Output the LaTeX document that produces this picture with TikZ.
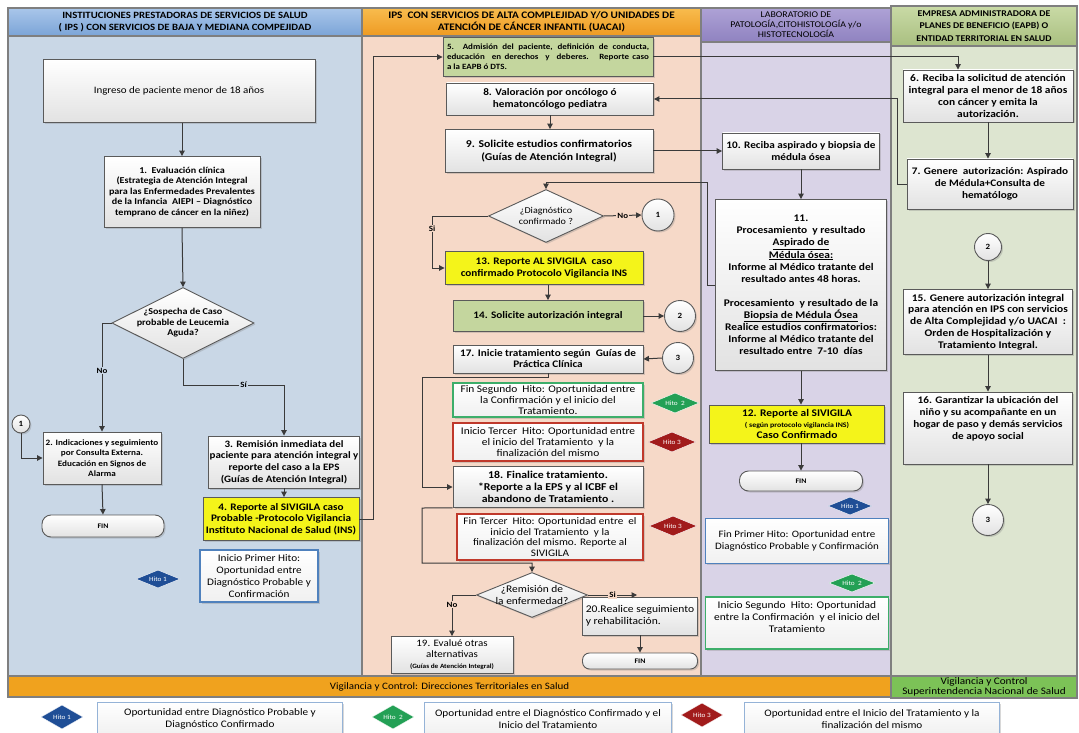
\documentclass[tikz,border=0pt]{standalone}
\usepackage{fontspec}
\setmainfont{Carlito}[FakeStretch=1.12]
\usetikzlibrary{shapes.geometric,arrows.meta,shadows}
\definecolor{laneA}{HTML}{C9D7E6}
\definecolor{laneB}{HTML}{F6D9C8}
\definecolor{laneC}{HTML}{D9D3E7}
\definecolor{laneD}{HTML}{DDE5D0}
\definecolor{hdrAtop}{HTML}{A9C6EA}
\definecolor{hdrAbot}{HTML}{7BA4D7}
\definecolor{hdrBtop}{HTML}{F8BC4E}
\definecolor{hdrBbot}{HTML}{EE9A22}
\definecolor{hdrCtop}{HTML}{AEA2D6}
\definecolor{hdrCbot}{HTML}{8F82C0}
\definecolor{hdrDtop}{HTML}{C9DAA6}
\definecolor{hdrDbot}{HTML}{A9BF80}
\definecolor{lanegray}{HTML}{7F7F7F}
\definecolor{bordergray}{HTML}{5A5A5A}
\definecolor{linegray}{HTML}{3A3A3A}
\definecolor{boxbot}{HTML}{E2E2E2}
\definecolor{boxlight}{HTML}{F0F0F0}
\definecolor{yelbox}{HTML}{F4F41A}
\definecolor{grnbox}{HTML}{C4D69E}
\definecolor{hitoblue}{HTML}{1F4E96}
\definecolor{hitogreen}{HTML}{23A055}
\definecolor{hitored}{HTML}{A11B1B}
\definecolor{hbblue}{HTML}{4F81BD}
\definecolor{hbgreen}{HTML}{3DAE6A}
\definecolor{hbred}{HTML}{C0392B}
\definecolor{bandor}{HTML}{F0A21E}
\definecolor{bandgr}{HTML}{7CC257}
\tikzset{
  shad/.style={drop shadow={opacity=0.3,shadow xshift=1.5pt,shadow yshift=-1.5pt}},
  pbox/.style={draw=bordergray, line width=0.9pt, top color=white, bottom color=boxbot, align=center, inner sep=1pt, text=black, font=\bfseries\fontsize{10}{12}\selectfont, shad},
  ybox/.style={pbox, top color=yelbox, bottom color=yelbox},
  gbox/.style={pbox, top color=grnbox, bottom color=grnbox},
  hbox/.style={pbox, draw=#1, line width=1.1pt, top color=white, bottom color=boxlight, font=\fontsize{10}{12}\selectfont},
  dec/.style={diamond, draw=bordergray, line width=0.9pt, top color=white, bottom color=boxbot, align=center, inner sep=0pt, aspect=2, font=\bfseries\fontsize{9}{10.5}\selectfont, shad},
  hito/.style={diamond, aspect=3, fill=#1, draw=white, line width=0.4pt, inner sep=0pt, minimum width=44pt, minimum height=18pt, text=white, font=\fontsize{6.5}{7}\selectfont},
  conn/.style={circle, draw=bordergray, line width=0.9pt, top color=white, bottom color=boxbot, inner sep=0pt, minimum size=#1, font=\bfseries\fontsize{8}{9}\selectfont, shad},
  pill/.style={pbox, rounded corners=9pt, font=\bfseries\fontsize{7}{8}\selectfont},
  arr/.style={draw=linegray, line width=1pt, -{Triangle[length=5.5pt,width=5.5pt]}},
  lbl/.style={fill=#1, inner sep=1pt, text=black, font=\bfseries\fontsize{8}{9}\selectfont},
  lane/.style={draw=lanegray, line width=1.6pt, fill=#1},
  hdr/.style={draw=lanegray, line width=1.2pt, align=center, inner sep=0pt, text=black},
  lgbox/.style={draw=hbblue!60, line width=0.8pt, top color=white, bottom color=boxlight, align=center, inner sep=1pt, font=\fontsize{10}{12}\selectfont, shad}
}
\begin{document}
\begin{tikzpicture}[x=1pt,y=-1pt]
\useasboundingbox (0,0) rectangle (1079,733);
\fill[white] (0,0) rectangle (1079,733);
% lanes
\draw[lane=laneA] (8,36) rectangle (362,676);
\draw[lane=laneB] (362,36) rectangle (701,676);
\draw[lane=laneC] (701,42) rectangle (891,676);
\draw[lane=laneD] (891,46) rectangle (1077,676);
\node[hdr, top color=hdrAtop, bottom color=hdrAbot, minimum width=354pt, minimum height=28pt, font=\bfseries\fontsize{9.6}{12}\selectfont] (hA) at (185,22) {INSTITUCIONES PRESTADORAS DE SERVICIOS DE SALUD\\( IPS ) CON SERVICIOS DE BAJA Y MEDIANA COMPEJIDAD};
\node[hdr, top color=hdrBtop, bottom color=hdrBbot, minimum width=339pt, minimum height=28pt, font=\bfseries\fontsize{10}{12}\selectfont] (hB) at (531.5,22) {IPS\ \ CON SERVICIOS DE ALTA COMPLEJIDAD Y/O UNIDADES DE\\ATENCIÓN DE CÁNCER INFANTIL (UACAI)};
\node[hdr, top color=hdrCtop, bottom color=hdrCbot, minimum width=190pt, minimum height=34pt, font=\fontsize{8.8}{10}\selectfont] (hC) at (796,25) {LABORATORIO DE\\PATOLOGÍA,CITOHISTOLOGÍA y/o\\HISTOTECNOLOGÍA};
\node[hdr, top color=hdrDtop, bottom color=hdrDbot, minimum width=186pt, minimum height=40pt, font=\bfseries\fontsize{8.8}{12.5}\selectfont] (hD) at (984,26) {EMPRESA ADMINISTRADORA DE\\PLANES DE BENEFICIO (EAPB) O\\ENTIDAD TERRITORIAL EN SALUD};
% bottom bands
\node[hdr, fill=bandor, minimum width=883pt, minimum height=21pt, font=\fontsize{9.8}{10}\selectfont] (vigA) at (449.5,686.5) {Vigilancia y Control: Direcciones Territoriales en Salud};
\node[hdr, fill=bandgr, minimum width=186pt, minimum height=22pt, font=\fontsize{10}{10.5}\selectfont] (vigB) at (984,687) {Vigilancia y Control\\Superintendencia Nacional de Salud};

% ---- lane 1
\node[pbox, minimum width=272pt, minimum height=63pt, font=\fontsize{9.8}{12}\selectfont] (ingreso) at (179,91) {Ingreso de paciente menor de 18 años};
\node[pbox, minimum width=156pt, minimum height=71pt, font=\bfseries\fontsize{9}{10.5}\selectfont] (b1) at (182,192) {1.\ \ Evaluación clínica\\(Estrategia de Atención Integral\\para las Enfermedades Prevalentes\\de la Infancia\ \ AIEPI – Diagnóstico\\temprano de cáncer en la niñez)};
\node[dec, inner sep=-6pt, minimum width=142pt, minimum height=71pt] (d1) at (183,323) {¿Sospecha de Caso\\probable de Leucemia\\Aguda?};
\node[pbox, minimum width=118pt, minimum height=52pt, font=\bfseries\fontsize{8.2}{10.5}\selectfont] (b2) at (102,458) {2. Indicaciones y seguimiento\\por Consulta Externa.\\Educación en Signos de\\Alarma};
\node[pill, minimum width=122pt, minimum height=22pt] (fin1) at (103,526) {FIN};
\node[conn=18pt] (c1a) at (21,424) {1};
\node[pbox, minimum width=150pt, minimum height=52pt, font=\bfseries\fontsize{9.8}{11.6}\selectfont] (b3) at (284,462) {3. Remisión inmediata del\\paciente para atención integral y\\reporte del caso a la EPS\\(Guías de Atención Integral)};
\node[ybox, minimum width=156pt, minimum height=43pt, font=\bfseries\fontsize{10}{11.5}\selectfont] (b4) at (281,519) {4. Reporte al SIVIGILA caso\\Probable -Protocolo Vigilancia\\Instituto Nacional de Salud (INS)};
\node[hbox=hbblue, minimum width=118pt, minimum height=52pt] (hb1) at (259,576) {Inicio Primer Hito:\\Oportunidad entre\\Diagnóstico Probable y\\Confirmación};
\node[hito=hitoblue] (hitoA) at (158,579) {Hito 1};

% ---- lane 2
\node[gbox, minimum width=210pt, minimum height=39pt, align=left, font=\bfseries\fontsize{8}{10}\selectfont] (b5) at (548,57) {\makebox[202pt][s]{5.\ \ Admisión del paciente, definición de conducta,}\\\makebox[202pt][s]{educación\ \ en derechos\ \ y\ \ deberes.\ \ \ Reporte caso}\\a la EAPB ó DTS.};
\node[pbox, minimum width=207pt, minimum height=32pt] (b8) at (550,99) {8. Valoración por oncólogo ó\\hematoncólogo pediatra};
\node[pbox, minimum width=208pt, minimum height=43pt, font=\bfseries\fontsize{10.5}{12.5}\selectfont] (b9) at (549,151) {9. Solicite estudios confirmatorios\\(Guías de Atención Integral)};
\node[dec, minimum width=115pt, minimum height=53pt, inner sep=-2pt, font=\fontsize{9}{10.5}\selectfont] (d2) at (546,216) {¿Diagnóstico\\confirmado ?};
\node[conn=32pt] (c1b) at (658,215) {1};
\node[ybox, minimum width=198pt, minimum height=33pt, font=\bfseries\fontsize{10}{11.5}\selectfont] (b13) at (544,268) {13. Reporte AL SIVIGILA\ \ caso\\confirmado Protocolo Vigilancia INS};
\node[gbox, minimum width=190pt, minimum height=31pt] (b14) at (548,316) {14. Solicite autorización integral};
\node[conn=31pt] (c2a) at (680,316) {2};
\node[pbox, minimum width=190pt, minimum height=28pt, font=\bfseries\fontsize{10}{11}\selectfont] (b17) at (548,359) {17. Inicie tratamiento según\ \ Guías de\\Práctica Clínica};
\node[conn=31pt] (c3a) at (678,358) {3};
\node[hbox=hbgreen, minimum width=190pt, minimum height=34pt, font=\fontsize{10.2}{10.8}\selectfont] (hb2) at (548,400) {Fin Segundo\ \ Hito: Oportunidad entre\\la Confirmación y el inicio del\\Tratamiento.};
\node[hito=hitogreen, minimum width=48pt, minimum height=20pt] (hitoB) at (675,403) {Hito\ \ 2};
\node[hbox=hbred, minimum width=190pt, minimum height=38pt, font=\fontsize{10.2}{11.2}\selectfont] (hb3) at (548,442) {Inicio Tercer\ \ Hito: Oportunidad entre\\el inicio del Tratamiento\ \ y la\\finalización del mismo};
\node[hito=hitored, minimum width=48pt, minimum height=20pt] (hitoC) at (672,442) {Hito 3};
\node[pbox, minimum width=190pt, minimum height=41pt, font=\bfseries\fontsize{10.5}{11.8}\selectfont] (b18) at (548,487) {18. Finalice tratamiento.\\*Reporte a la EPS y al ICBF el\\abandono de Tratamiento .};
\node[hbox=hbred, minimum width=186pt, minimum height=46pt, font=\fontsize{10}{10.8}\selectfont] (hb4) at (550,537) {Fin Tercer\ \ Hito: Oportunidad entre\ \ el\\inicio del Tratamiento\ \ y la\\finalización del mismo. Reporte al\\SIVIGILA};
\node[hito=hitored, minimum width=48pt, minimum height=20pt] (hitoD) at (673,526) {Hito 3};
\node[dec, aspect=2.5, inner sep=-8pt, minimum width=111pt, minimum height=45pt, font=\fontsize{10.2}{11.5}\selectfont] (d3) at (532,595) {¿Remisión de\\la enfermedad?};
\node[pbox, minimum width=115pt, minimum height=38pt, align=left, font=\fontsize{10.3}{12}\selectfont] (b20) at (640,616) {20.Realice seguimiento\\y rehabilitación.};
\node[pill, minimum width=115pt, minimum height=16pt, rounded corners=7pt] (fin3) at (640,661) {FIN};
\node[pbox, minimum width=122pt, minimum height=37pt, font=\fontsize{9.8}{11}\selectfont] (b19) at (452,655) {19. Evalué otras\\alternativas\\{\bfseries\fontsize{6.5}{8}\selectfont (Guías de Atención Integral)}};

% ---- lane 3
\node[pbox, minimum width=157pt, minimum height=36pt] (b10) at (801,151) {10. Reciba aspirado y biopsia de\\médula ósea};
\node[pbox, minimum width=171pt, minimum height=171pt, font=\bfseries\fontsize{10.2}{12.1}\selectfont] (b11) at (801,285) {11.\\Procesamiento\ \ y resultado\\\underline{Aspirado de}\\\underline{Médula ósea:}\\Informe al Médico tratante del\\resultado antes 48 horas.\\[12.1pt]Procesamiento\ \ y resultado de la\\\underline{Biopsia de Médula Ósea}\\Realice estudios confirmatorios:\\Informe al Médico tratante del\\resultado entre\ \ 7-10\ \ días};
\node[ybox, minimum width=175pt, minimum height=38pt, font=\bfseries\fontsize{10.2}{11}\selectfont] (b12) at (797,424) {12. Reporte al SIVIGILA\\{\fontsize{7}{8}\selectfont ( según protocolo vigilancia INS)}\\Caso Confirmado};
\node[pill, minimum width=123pt, minimum height=20pt] (fin2) at (801,481) {FIN};
\node[hito=hitoblue] (hitoE) at (850,506) {Hito 1};
\node[hbox=hbblue, minimum width=183pt, minimum height=45pt, font=\fontsize{9.8}{12}\selectfont] (hb5) at (797,541) {Fin Primer Hito: Oportunidad entre\\Diagnóstico Probable y Confirmación};
\node[hito=hitogreen, minimum width=46pt] (hitoF) at (852,583) {Hito\ \ 2};
\node[hbox=hbgreen, minimum width=183pt, minimum height=52pt, font=\fontsize{10.2}{12}\selectfont] (hb6) at (797,623) {Inicio Segundo\ \ Hito: Oportunidad\\entre la Confirmación\ \ y el inicio del\\Tratamiento\\\mbox{}};

% ---- lane 4
\node[pbox, minimum width=170pt, minimum height=52pt, font=\bfseries\fontsize{10.2}{11.8}\selectfont] (b6) at (988,96) {6. Reciba la solicitud de atención\\integral para el menor de 18 años\\con cáncer y emita la\\autorización.};
\node[pbox, minimum width=166pt, minimum height=50pt] (b7) at (990,184) {7. Genere\ \ autorización: Aspirado\\de Médula+Consulta de\\hematólogo};
\node[conn=27pt] (c2b) at (988,247) {2};
\node[pbox, minimum width=169pt, minimum height=65pt, font=\bfseries\fontsize{10.2}{11.8}\selectfont] (b15) at (988,322) {15. Genere autorización integral\\para atención en IPS con servicios\\de Alta Complejidad y/o UACAI\ \ :\\Orden de Hospitalización y\\Tratamiento Integral.};
\node[pbox, minimum width=169pt, minimum height=72pt] (b16) at (988,428) {16. Garantizar la ubicación del\\niño y su acompañante en un\\hogar de paso y demás servicios\\de apoyo social\\[8pt]\mbox{}};
\node[conn=31pt] (c3b) at (988,520) {3};

% ---- legend
\node[hito=hitoblue, minimum width=42pt, minimum height=24pt] (lh1) at (62,717) {Hito 1};
\node[lgbox, minimum width=245pt, minimum height=34pt] (lg1) at (220,719) {Oportunidad entre Diagnóstico Probable y\\Diagnóstico Confirmado};
\node[hito=hitogreen, minimum width=42pt, minimum height=24pt] (lh2) at (393,717) {Hito\ \ 2};
\node[lgbox, minimum width=247pt, minimum height=34pt] (lg2) at (548,719) {Oportunidad entre el Diagnóstico Confirmado y el\\Inicio del Tratamiento};
\node[hito=hitored, minimum width=42pt, minimum height=24pt] (lh3) at (702,715) {Hito 3};
\node[lgbox, minimum width=255pt, minimum height=34pt] (lg3) at (872,719) {Oportunidad entre el Inicio del Tratamiento y la\\finalización del mismo};

% ---- connectors
\coordinate (kS) at (183,385);
\coordinate (k4) at (373,519);
\coordinate (k5) at (958,57);
\coordinate (k7) at (897,184);
\coordinate (k11) at (707,285);
\coordinate (k11b) at (707,182);
\coordinate (kSi) at (432,216);
\coordinate (k17a) at (548,377);
\coordinate (k17b) at (422,377);
\coordinate (k18a) at (422,508);
\coordinate (k18b) at (422,563);
\coordinate (kR) at (637,595);

\draw[arr] (b1.north |- ingreso.south) -- (b1.north);
\draw[arr] (b1.south) -- (d1.north);
\draw[arr] (d1.west) -| (b2.north) node[lbl=laneA, pos=0.72] {No};
\draw[arr] (d1.south) -- (kS) -| (b3.north) node[lbl=laneA, pos=0.3] {Sí};
\draw[arr] (b2.south) -- (fin1.north);
\draw[arr] (c1a.south) |- (b2.west);
\draw[arr] (b3.south) -- (b3.south |- b4.north);
\draw[arr] (b4.east) -- (k4) |- (b5.west);
\draw[arr] (b5.east) -- (k5) -- (k5 |- b6.north);
\draw[arr] (b6.south) -- (b6.south |- b7.north);
\draw[arr] (b7.west) -- (k7) |- (b8.east);
\draw[arr] (b8.south) -- (b8.south |- b9.north);
\draw[arr] (b9.east) -- (b10.west);
\draw[arr] (b10.south) -- (b10.south |- b11.north);
\draw[arr] (b11.west) -- (k11) -- (k11b) -| (d2.north);
\draw[arr] (d2.east) -- (c1b.west) node[lbl=laneB, midway] {No};
\draw[arr] (d2.west) -- (kSi) |- (b13.west) node[lbl=laneB, pos=0.12] {Si};
\draw[arr] (b14.north |- b13.south) -- (b14.north);
\draw[arr] (b14.east) -- (c2a.west);
\draw[arr] (c3a.west) -- (b17.east);
\draw[arr] (b17.south) -- (k17a) -- (k17b) |- (b18.west);
\draw[arr] (b18.south west) -- (k18a) -- (k18b) -| (d3.north);
\draw[arr] (d3.west) -| (b19.north) node[lbl=laneB, pos=0.62] {No};
\draw[arr] (d3.east) -- (kR) node[lbl=laneB, midway] {Si};
\draw[arr] (b20.south) -- (fin3.north);
\draw[arr] (b11.south) -- (b11.south |- b12.north);
\draw[arr] (b12.south -| fin2.north) -- (fin2.north);
\draw[arr] (c2b.south) -- (b15.north);
\draw[arr] (b15.south) -- (b16.north);
\draw[arr] (b16.south) -- (c3b.north);
\end{tikzpicture}
\end{document}
